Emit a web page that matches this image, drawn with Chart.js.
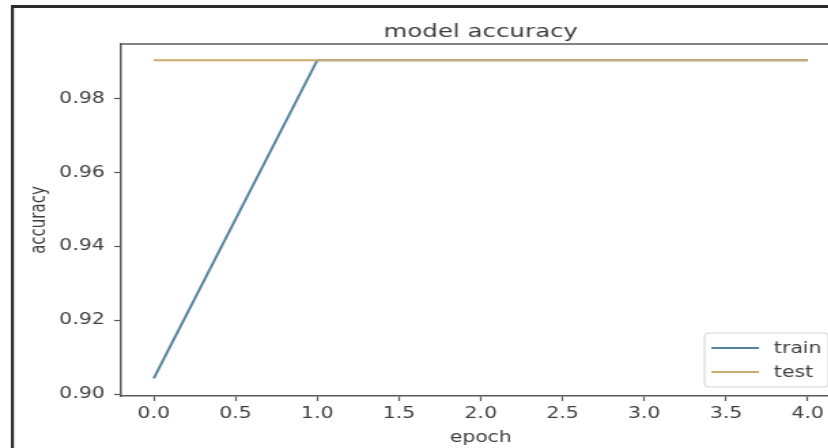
<!DOCTYPE html>
<html>
<head>
    <meta charset="utf-8">
    <title>model accuracy</title>
    <script src="https://cdn.jsdelivr.net/npm/chart.js"></script>
    <style>
        html, body {
            margin: 0;
            padding: 0;
            width: 828px;
            height: 448px;
            overflow: hidden;
            background: #ffffff;
        }
        /* la imagen original esta estirada en horizontal */
        #accChart {
            display: block;
            transform: scaleX(1.36);
            transform-origin: 0 0;
        }
    </style>
</head>
<body>
    <canvas id="accChart" width="622" height="448"></canvas>

    <script>
        // --- datos ---
        const chartTitle = 'model accuracy';
        const epochs = [0, 1, 2, 3, 4];
        const trainAcc = [0.9043, 0.9905, 0.9905, 0.9905, 0.9905];
        const testAcc = [0.9905, 0.9905, 0.9905, 0.9905, 0.9905];
        const xTitle = 'epoch';
        const yTitle = 'accuracy';

        const textColor = '#3f3f3f';
        const spineColor = '#585858';

        Chart.defaults.font.family = '"DejaVu Sans", sans-serif';
        Chart.defaults.font.size = 15;
        Chart.defaults.color = textColor;

        // marco oscuro de la captura + fondo blanco
        const framePlugin = {
            id: 'frame',
            beforeDraw(chart) {
                const { ctx, width, height } = chart;
                ctx.save();
                ctx.fillStyle = '#ffffff';
                ctx.fillRect(0, 0, width, height);
                ctx.fillStyle = '#2b2b2b';
                ctx.fillRect(8, 5, width, 3);
                ctx.fillRect(8, 5, 2.2, height);
                ctx.restore();
            }
        };

        // titulo centrado sobre el area del grafico y spine superior
        const titlePlugin = {
            id: 'axTitle',
            afterDraw(chart) {
                const { ctx, chartArea } = chart;
                ctx.save();
                ctx.strokeStyle = spineColor;
                ctx.lineWidth = 1.5;
                ctx.beginPath();
                ctx.moveTo(chartArea.left, chartArea.top);
                ctx.lineTo(chartArea.right, chartArea.top);
                ctx.stroke();
                ctx.fillStyle = textColor;
                ctx.font = '18px "DejaVu Sans", sans-serif';
                ctx.textAlign = 'center';
                ctx.textBaseline = 'alphabetic';
                ctx.fillText(chartTitle, (chartArea.left + chartArea.right) / 2, chartArea.top - 7);
                ctx.restore();
            }
        };

        // leyenda abajo a la derecha dentro de los ejes
        const legendPlugin = {
            id: 'innerLegend',
            afterDatasetsDraw(chart) {
                const { ctx, chartArea } = chart;
                const sets = chart.data.datasets;
                ctx.save();
                ctx.font = '15px "DejaVu Sans", sans-serif';
                const textW = Math.max(...sets.map(d => ctx.measureText(d.label).width));
                const pad = 5, handle = 35, gap = 11, rowH = 24;
                const w = pad + handle + gap + textW + pad;
                const h = rowH * sets.length + 6;
                const x = chartArea.right - 9 - w;
                const y = chartArea.bottom - 9 - h;
                ctx.fillStyle = 'rgba(255,255,255,0.85)';
                ctx.strokeStyle = '#d4d4d4';
                ctx.lineWidth = 1;
                ctx.beginPath();
                ctx.roundRect(x, y, w, h, 3);
                ctx.fill();
                ctx.stroke();
                sets.forEach((d, i) => {
                    const cy = y + 15 + i * rowH;
                    ctx.strokeStyle = d.borderColor;
                    ctx.lineWidth = 2;
                    ctx.beginPath();
                    ctx.moveTo(x + pad, cy);
                    ctx.lineTo(x + pad + handle, cy);
                    ctx.stroke();
                    ctx.fillStyle = textColor;
                    ctx.textAlign = 'left';
                    ctx.textBaseline = 'middle';
                    ctx.fillText(d.label, x + pad + handle + gap, cy + 1);
                });
                ctx.restore();
            }
        };

        const ctx = document.getElementById('accChart').getContext('2d');
        const accChart = new Chart(ctx, {
            type: 'line',
            data: {
                datasets: [{
                    label: 'train',
                    data: epochs.map((e, i) => ({ x: e, y: trainAcc[i] })),
                    borderColor: '#55849e',
                    borderWidth: 2,
                    pointRadius: 0,
                    tension: 0,
                    order: 1
                }, {
                    label: 'test',
                    data: epochs.map((e, i) => ({ x: e, y: testAcc[i] })),
                    borderColor: '#cbab6c',
                    borderWidth: 2,
                    pointRadius: 0,
                    tension: 0,
                    order: 0   // test se dibuja encima, como en matplotlib
                }]
            },
            options: {
                responsive: false,
                animation: false,
                layout: { padding: { top: 44, left: 0, right: 4, bottom: 0 } },
                plugins: {
                    legend: { display: false },
                    tooltip: { enabled: false }
                },
                scales: {
                    x: {
                        type: 'linear',
                        min: -0.2,
                        max: 4.2,
                        afterFit(scale) { scale.height = 52; },
                        border: { display: true, color: spineColor, width: 1.5 },
                        grid: { drawOnChartArea: false, drawTicks: true, tickLength: 5, tickColor: spineColor, tickWidth: 1.2 },
                        ticks: {
                            stepSize: 0.5,
                            includeBounds: false,
                            maxRotation: 0,
                            padding: 4,
                            callback: v => v.toFixed(1)
                        },
                        title: { display: true, text: xTitle, padding: { top: 0, bottom: 1 } }
                    },
                    y: {
                        min: 0.8995,
                        max: 0.9949,
                        afterFit(scale) { scale.width = 89; },
                        border: { display: true, color: spineColor, width: 1.5 },
                        grid: { drawOnChartArea: false, drawTicks: true, tickLength: 5, tickColor: spineColor, tickWidth: 1.2 },
                        ticks: {
                            stepSize: 0.02,
                            includeBounds: false,
                            padding: 7,
                            callback: v => v.toFixed(2)
                        },
                        title: { display: true, text: yTitle, padding: { top: 20, bottom: 0 } }
                    }
                }
            },
            plugins: [framePlugin, titlePlugin, legendPlugin]
        });
    </script>
</body>
</html>
